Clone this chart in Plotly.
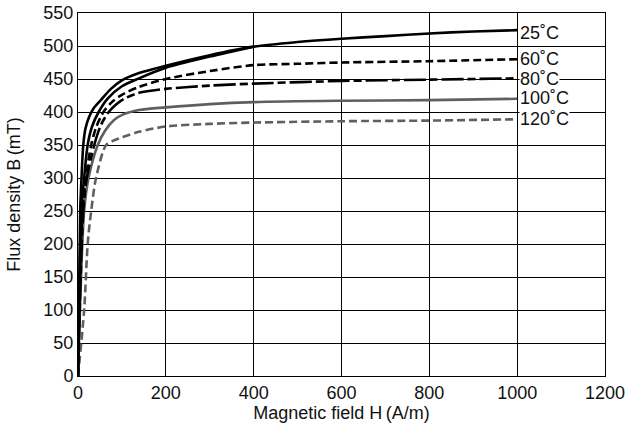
import plotly.graph_objects as go

# 25°C (outer solid black)
h_25 = [0, 5, 8, 12, 17, 25, 35, 52, 75, 100, 139, 200, 300, 400, 500, 600, 700, 800, 900, 1000]
b_25 = [0, 250, 300, 350, 375, 392, 405, 418, 435, 448, 459, 470, 486, 499, 506, 511, 515, 519, 522, 524]

# second solid black curve (merges with 25°C near 400 A/m)
h_25b = [0, 8, 14, 22, 32, 47, 67, 100, 139, 200, 300, 400]
b_25b = [0, 250, 300, 350, 378, 400, 420, 439, 451, 467, 484, 499]

# 60°C (black dashed)
h_60 = [0, 10, 18, 30, 42, 58, 77, 100, 139, 200, 300, 400, 500, 600, 800, 1000]
b_60 = [0, 250, 300, 350, 378, 400, 415, 426, 438, 450, 462, 471, 473, 475, 477, 480]

# 80°C (black long dash)
h_80 = [0, 12, 20, 37, 52, 70, 88, 105, 139, 200, 300, 400, 600, 800, 1000]
b_80 = [0, 250, 300, 350, 380, 400, 412, 420, 429, 435, 440, 443, 447, 449, 451]

# 100°C (gray solid)
h_100 = [0, 14, 24, 45, 62, 82, 102, 139, 200, 300, 400, 600, 800, 1000]
b_100 = [0, 250, 300, 350, 372, 388, 396, 403, 407, 412, 415, 417, 418, 420]

# 120°C (gray dashed)
h_120 = [0, 14, 22, 30, 41, 64, 82, 102, 139, 200, 300, 400, 600, 800, 1000]
b_120 = [0, 100, 200, 250, 300, 350, 357, 362, 370, 378, 382, 384, 386, 387, 389]

labels = ["25˚C", "60˚C", "80˚C", "100˚C", "120˚C"]
label_y = [520, 480, 450, 421, 389]

x_ticks = [0, 200, 400, 600, 800, 1000, 1200]
y_ticks = list(range(0, 551, 50))

FONT = "Liberation Sans, Arial, sans-serif"

fig = go.Figure()

def add(h, b, color, dash):
    fig.add_trace(go.Scatter(x=h, y=b, mode="lines",
                             line=dict(color=color, width=2.6, dash=dash, shape="spline", smoothing=0.8),
                             showlegend=False, hoverinfo="skip"))

add(h_120, b_120, "#5f5f5f", "8px,4px")
add(h_100, b_100, "#5f5f5f", "solid")
add(h_80, b_80, "#000000", "22px,4px,8px,4px")
add(h_60, b_60, "#000000", "8px,4px")
add(h_25b, b_25b, "#000000", "solid")
add(h_25, b_25, "#000000", "solid")

for t, yv in zip(labels, label_y):
    fig.add_annotation(x=1000, y=yv, text=t, showarrow=False, xanchor="left", yanchor="middle",
                       xshift=2, bgcolor="white", borderpad=0,
                       font=dict(family=FONT, size=18, color="#111"))

axis_common = dict(showline=True, linecolor="black", linewidth=1, mirror=True,
                   showgrid=True, gridcolor="black", gridwidth=1, zeroline=False,
                   ticks="", automargin=False,
                   tickfont=dict(family=FONT, size=18, color="#111"))

fig.update_xaxes(range=[0, 1200], tickvals=x_ticks, **axis_common,
                 title=dict(text="Magnetic field H\u2009(A/m)", standoff=4,
                            font=dict(family=FONT, size=18, color="#111")))
fig.update_yaxes(range=[0, 550], tickvals=y_ticks, **axis_common,
                 title=dict(text="Flux density B\u2009(mT)", standoff=18,
                            font=dict(family=FONT, size=18, color="#111")))

fig.update_layout(width=629, height=428, margin=dict(l=78, r=24, t=13, b=52, autoexpand=False),
                  plot_bgcolor="white", paper_bgcolor="white")

fig.write_html("out.html", config={"displayModeBar": False},
               post_script="document.body.style.margin='0';document.body.style.overflow='hidden';")
